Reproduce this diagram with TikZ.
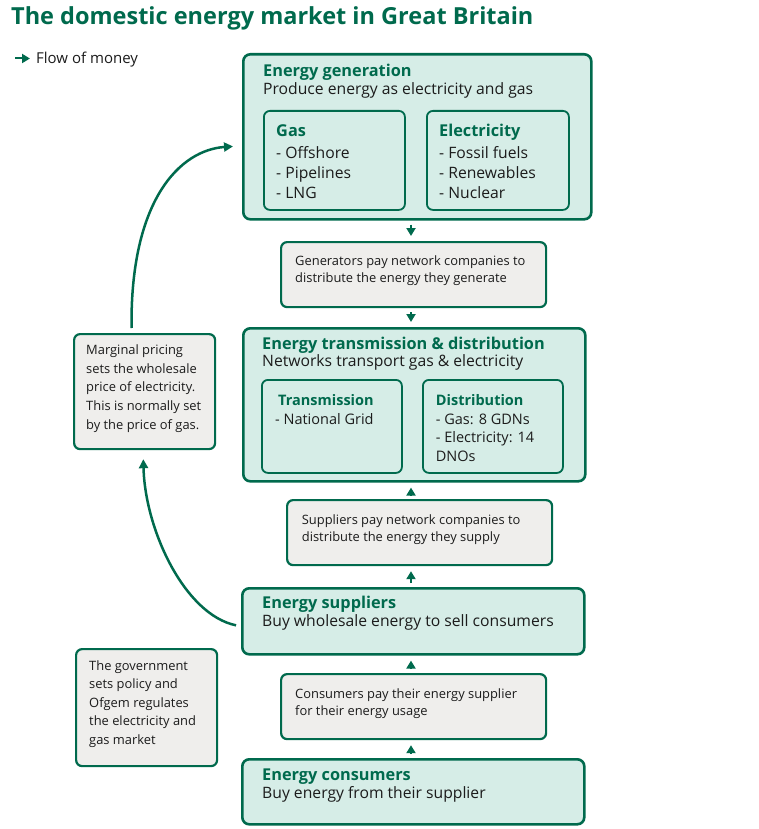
\documentclass[tikz,border=0pt]{standalone}
\usepackage{fontspec}
\setmainfont{Open Sans}
\usetikzlibrary{arrows.meta,positioning}

\definecolor{ogreen}{RGB}{0,106,77}
\definecolor{oteal}{RGB}{214,237,231}
\definecolor{ogrey}{RGB}{239,238,236}
\definecolor{otext}{RGB}{28,28,28}

\tikzset{
  sector/.style={draw=ogreen, fill=oteal, line width=2.6pt, rounded corners=7pt, anchor=north west, inner sep=0pt},
  part/.style={draw=ogreen, fill=oteal, line width=1.8pt, rounded corners=6pt, anchor=north west, inner sep=0pt},
  payment/.style={draw=ogreen, fill=ogrey, line width=2.2pt, rounded corners=6pt, anchor=north west, inner sep=0pt},
  head/.style={anchor=base west, inner sep=0pt, text=ogreen, font=\fontsize{16.3}{19}\selectfont\bfseries},
  body/.style={anchor=base west, inner sep=0pt, text=otext, font=\fontsize{15.7}{19}\selectfont},
  subhead/.style={anchor=base west, inner sep=0pt, text=ogreen, font=\fontsize{14.5}{17}\selectfont\bfseries},
  subbody/.style={anchor=base west, inner sep=0pt, text=otext, font=\fontsize{14.5}{17}\selectfont},
  small/.style={anchor=base west, inner sep=0pt, text=otext, font=\fontsize{12.9}{16}\selectfont},
  money/.style={draw=ogreen, line width=2pt, -{Triangle[length=8pt,width=9pt]}, shorten <=4pt, shorten >=5pt},
  loop/.style={draw=ogreen, line width=2.5pt, -{Triangle[length=9pt,width=9pt]}, shorten <=5pt, shorten >=9pt}
}

\begin{document}
\begin{tikzpicture}[x=1pt,y=-1pt]
  \useasboundingbox[fill=white] (0,0) rectangle (758,829);

  % title and legend
  \node[anchor=base west, inner sep=0pt, text=ogreen, font=\fontsize{23.5}{28}\selectfont\bfseries] (title) at (11,25) {The domestic energy market in Great Britain};
  \coordinate (lg) at (15,58.5);
  \node[anchor=base west, inner sep=0pt, text=otext, font=\fontsize{15}{18}\selectfont] (flow) at (36,64) {Flow of money};
  \draw[money, shorten <=0pt, shorten >=6pt] (lg) -- (flow.west |- lg);

  % main boxes
  \node[sector, minimum width=348, minimum height=165] (gen) at (242,53) {};
  \node[part, minimum width=141, minimum height=99] (gas) at (263,110) {};
  \node[part, minimum width=142, minimum height=99] (elec) at (426,110) {};
  \node[payment, minimum width=265, minimum height=65] (genpay) at (280,241) {};
  \node[sector, minimum width=342, minimum height=153] (net) at (242,327) {};
  \node[part, minimum width=140, minimum height=93] (trans) at (261,379) {};
  \node[part, minimum width=140, minimum height=93] (dist) at (422,379) {};
  \node[payment, minimum width=265, minimum height=65] (suppay) at (286,499) {};
  \node[sector, minimum width=342, minimum height=66] (sup) at (241,587) {};
  \node[payment, minimum width=265, minimum height=65] (conpay) at (280,673) {};
  \node[sector, minimum width=342, minimum height=65] (con) at (241,758) {};

  % side notes
  \node[payment, minimum width=141, minimum height=115] (marg) at (73,333) {};
  \node[payment, minimum width=141, minimum height=117] (gov) at (75,648) {};

  % generation
  \node[head] (gen-t) at (263,76.7) {Energy generation};
  \node[body] (gen-s) at (263,94.3) {Produce energy as electricity and gas};
  \node[head] (gas-t) at (276,137) {Gas};
  \foreach \s [count=\i] in {Offshore,Pipelines,LNG}
    \node[body] (gas-\i) at (276,{158.3+20*(\i-1)}) {- \s};
  \node[head] (elec-t) at (439,137) {Electricity};
  \foreach \s [count=\i] in {Fossil fuels,Renewables,Nuclear}
    \node[body] (elec-\i) at (439,{158.3+20*(\i-1)}) {- \s};

  % networks
  \node[head] (net-t) at (262,349.3) {Energy transmission \& distribution};
  \node[body] (net-s) at (262,366.7) {Networks transport gas \& electricity};
  \node[subhead] (trans-t) at (278,405.7) {Transmission};
  \node[subbody] (trans-1) at (275,424.3) {- National Grid};
  \node[subhead] (dist-t) at (435.7,405.7) {Distribution};
  \foreach \s [count=\i] in {- Gas: 8 GDNs,- Electricity: 14,DNOs}
    \node[subbody] (dist-\i) at (435.7,{424.3+18.5*(\i-1)}) {\s};

  % suppliers and consumers
  \node[head] (sup-t) at (262,608.3) {Energy suppliers};
  \node[body] (sup-s) at (262,626.7) {Buy wholesale energy to sell consumers};
  \node[head] (con-t) at (262,780) {Energy consumers};
  \node[body] (con-s) at (262,798.3) {Buy energy from their supplier};

  % payments
  \foreach \s [count=\i] in {Generators pay network companies to,distribute the energy they generate}
    \node[small] (genpay-\i) at (295,{265.7+17*(\i-1)}) {\s};
  \foreach \s [count=\i] in {Suppliers pay network companies to,distribute the energy they supply}
    \node[small] (suppay-\i) at (301.7,{524.3+16.7*(\i-1)}) {\s};
  \foreach \s [count=\i] in {Consumers pay their energy supplier,for their energy usage}
    \node[small] (conpay-\i) at (295,{698.3+16.7*(\i-1)}) {\s};
  \foreach \s [count=\i] in {Marginal pricing,sets the wholesale,price of electricity.,This is normally set,by the price of gas.}
    \node[small] (marg-\i) at (86,{354.3+18.75*(\i-1)}) {\s};
  \foreach \s [count=\i] in {The government,sets policy and,Ofgem regulates,the electricity and,gas market}
    \node[small] (gov-\i) at (89,{670+18.6*(\i-1)}) {\s};

  % flow of money
  \coordinate (spine) at (411,0);
  \draw[money] (gen.south -| spine) -- (genpay.north -| spine);
  \draw[money] (genpay.south -| spine) -- (net.north -| spine);
  \draw[money] (suppay.north -| spine) -- (net.south -| spine);
  \draw[money] (sup.north -| spine) -- (suppay.south -| spine);
  \draw[money] (conpay.north -| spine) -- (sup.south -| spine);
  \draw[money] (con.north -| spine) -- (conpay.south -| spine);
  \draw[loop] ([xshift=-13pt]marg.north) .. controls (130,200) and (180,150) .. ([yshift=-9pt]gen.west);
  \draw[loop] ([yshift=-5pt]sup.west) .. controls (185,615) and (145,530) .. ([xshift=-1.5pt]marg.south);
\end{tikzpicture}
\end{document}
